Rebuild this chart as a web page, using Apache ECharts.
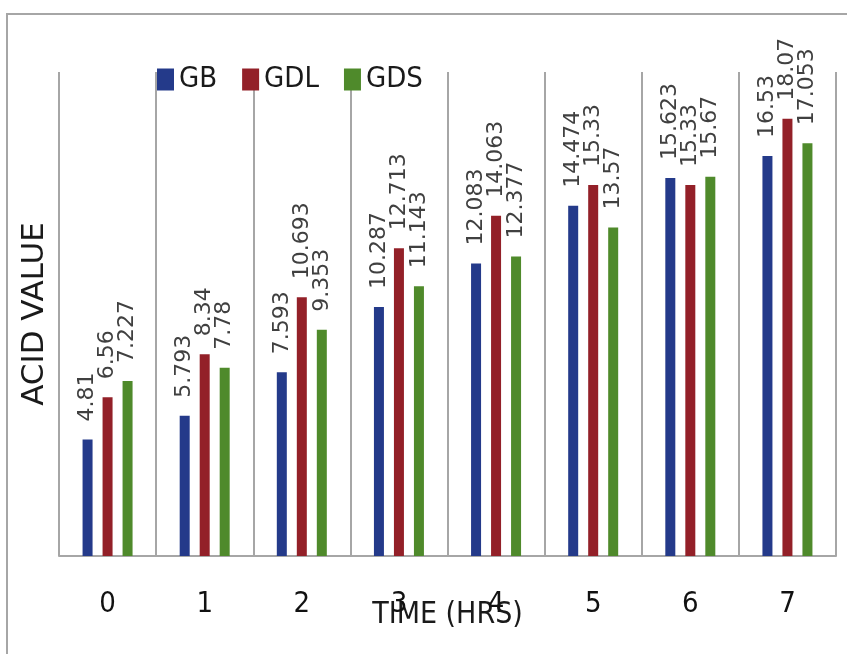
<!DOCTYPE html>
<html>
<head>
<meta charset="utf-8">
<script src="https://cdn.jsdelivr.net/npm/echarts@6/dist/echarts.min.js"></script>
<style>
html,body{margin:0;padding:0;background:#fff;}
#c{width:847px;height:654px;}
</style>
</head>
<body>
<div id="c"></div>
<script>
const categories = ['0','1','2','3','4','5','6','7'];
const seriesNames = ['GB','GDL','GDS'];
const gbValues  = [4.81, 5.793, 7.593, 10.287, 12.083, 14.474, 15.623, 16.53];
const gdlValues = [6.56, 8.34, 10.693, 12.713, 14.063, 15.33, 15.33, 18.07];
const gdsValues = [7.227, 7.78, 9.353, 11.143, 12.377, 13.57, 15.67, 17.053];
const colors = ['#243a8a', '#932028', '#4f8a2b'];

const narrow = "'Liberation Sans Narrow','DejaVu Sans Condensed','Arial Narrow',sans-serif";
const chart = echarts.init(document.getElementById('c'), null, {renderer:'canvas'});

function mkSeries(name, data, color){
  return {
    name: name, type: 'bar', data: data, barWidth: 10, barGap: '100%',
    itemStyle: {color: color},
    label: {
      show: true, position: 'top', rotate: 90, distance: 18,
      align: 'left', verticalAlign: 'middle',
      color: '#404040', fontFamily: "'DejaVu Sans',sans-serif", fontSize: 22
    }
  };
}

chart.setOption({
  backgroundColor: '#ffffff',
  animation: false,
  graphic: [{
    type: 'rect', silent: true,
    shape: {x: 7, y: 14, width: 900, height: 700},
    style: {fill: 'none', stroke: '#a6a6a6', lineWidth: 2}
  }],
  legend: {
    data: seriesNames, left: 157, top: 65, padding: 0,
    icon: 'rect', itemWidth: 17, itemHeight: 22, itemGap: 25,
    textStyle: {fontFamily: narrow, fontSize: 29, color: '#1a1a1a'}
  },
  grid: {left: 59, right: 11, top: 72, bottom: 98, outerBoundsMode: 'none', containLabel: false},
  xAxis: {
    type: 'category', data: categories,
    name: 'TIME (HRS)', nameLocation: 'middle', nameGap: 44, nameMoveOverlap: false,
    nameTextStyle: {fontFamily: narrow, fontSize: 30, color: '#1a1a1a'},
    axisLine: {show: true, lineStyle: {color: '#a6a6a6', width: 2}},
    axisTick: {show: false},
    axisLabel: {margin: 34, fontFamily: narrow, fontSize: 29, color: '#111'},
    splitLine: {show: true, lineStyle: {color: '#a6a6a6', width: 2}}
  },
  yAxis: {
    type: 'value', min: 0, max: 20,
    name: 'ACID VALUE', nameLocation: 'middle', nameGap: 9, nameRotate: 90, nameMoveOverlap: false,
    nameTextStyle: {fontFamily: "'DejaVu Sans',sans-serif", fontSize: 31, color: '#1a1a1a'},
    axisLine: {show: false}, axisTick: {show: false},
    axisLabel: {show: false}, splitLine: {show: false}
  },
  series: [
    mkSeries(seriesNames[0], gbValues, colors[0]),
    mkSeries(seriesNames[1], gdlValues, colors[1]),
    mkSeries(seriesNames[2], gdsValues, colors[2])
  ]
});
</script>
</body>
</html>
